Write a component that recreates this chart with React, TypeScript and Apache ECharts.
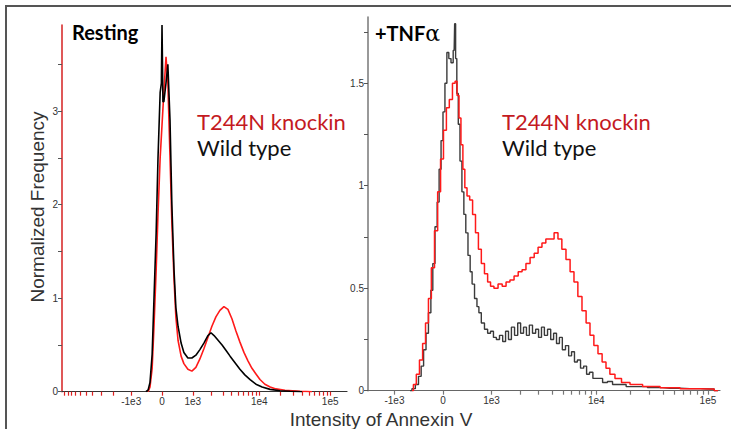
import React, { useEffect, useRef } from "react";
import * as echarts from "echarts";

// biexponential (arcsinh) display transform width
const BIEX_W = 850;
const toU = (v: number) => Math.asinh(v / BIEX_W);

const xMajorValues = [-1000, 0, 1000, 10000, 100000];
const xMajorLabels = ["-1e3", "0", "1e3", "1e4", "1e5"];
const xMinorValues = [
  -10000, -9000, -8000, -7000, -6000, -5000, -4000, -3000, -2000,
  2000, 3000, 4000, 5000, 6000, 7000, 8000, 9000,
  20000, 30000, 40000, 50000, 60000, 70000, 80000, 90000,
];

const leftYTicks = [0, 0.5, 1, 1.5, 2, 2.5, 3, 3.5];
const leftYLabels = [0, 1, 2, 3];
const rightYTicks = [0, 0.25, 0.5, 0.75, 1, 1.25, 1.5, 1.75];
const rightYLabels = [0, 0.5, 1, 1.5];

// Resting panel (x in display channel units = asinh(I/850))
const restWtX = [-0.52, -0.45, -0.39, -0.32, -0.26, -0.19, -0.13, -0.06, -0.02, 0, 0.03, 0.06, 0.13, 0.19, 0.26, 0.32, 0.39, 0.45, 0.52, 0.62, 0.71, 0.84, 0.97, 1.1, 1.23, 1.36, 1.49, 1.59, 1.69, 1.82, 1.95, 2.08, 2.21, 2.37, 2.53, 2.69, 2.86, 3.05, 3.25, 3.51, 3.83, 4.16, 4.55];
const restWtY = [0, 0.02, 0.1, 0.4, 1.0, 1.7, 2.5, 3.2, 3.3, 3.92, 3.1, 3.1, 3.3, 3.5, 2.9, 2.0, 1.3, 0.9, 0.7, 0.52, 0.42, 0.36, 0.36, 0.39, 0.45, 0.52, 0.6, 0.63, 0.6, 0.55, 0.5, 0.44, 0.38, 0.31, 0.24, 0.18, 0.13, 0.08, 0.05, 0.025, 0.01, 0.005, 0];
const restKiX = [-0.45, -0.39, -0.32, -0.26, -0.19, -0.13, -0.06, 0, 0.06, 0.13, 0.19, 0.26, 0.32, 0.39, 0.45, 0.52, 0.62, 0.71, 0.84, 0.97, 1.1, 1.23, 1.36, 1.49, 1.62, 1.75, 1.88, 2.01, 2.14, 2.27, 2.4, 2.53, 2.66, 2.79, 2.92, 3.05, 3.18, 3.34, 3.51, 3.7, 3.99, 4.48, 4.87];
const restKiY = [0, 0.05, 0.25, 0.7, 1.3, 1.9, 2.5, 2.85, 3.2, 3.58, 3.3, 2.5, 1.8, 1.2, 0.8, 0.55, 0.38, 0.3, 0.24, 0.22, 0.26, 0.35, 0.46, 0.58, 0.7, 0.8, 0.87, 0.91, 0.88, 0.78, 0.65, 0.53, 0.42, 0.33, 0.25, 0.19, 0.13, 0.08, 0.05, 0.03, 0.015, 0.005, 0];

// +TNFα panel
const tnfWtX = [-0.68, -0.6, -0.54, -0.47, -0.43, -0.37, -0.33, -0.27, -0.23, -0.19, -0.14, -0.1, -0.06, -0.02, 0.02, 0.06, 0.1, 0.14, 0.19, 0.23, 0.25, 0.27, 0.3, 0.33, 0.37, 0.41, 0.45, 0.49, 0.54, 0.58, 0.62, 0.68, 0.72, 0.76, 0.82, 0.89, 0.95, 1.01, 1.07, 1.13, 1.2, 1.26, 1.32, 1.38, 1.44, 1.51, 1.57, 1.63, 1.69, 1.75, 1.81, 1.88, 1.94, 2.0, 2.06, 2.12, 2.19, 2.25, 2.31, 2.37, 2.43, 2.49, 2.56, 2.62, 2.68, 2.74, 2.8, 2.87, 2.93, 2.99, 3.05, 3.13, 3.24, 3.34, 3.44, 3.55, 3.69, 3.86, 4.06, 4.37, 4.68, 5.09, 5.51, 5.67];
const tnfWtY = [0, 0.01, 0.03, 0.07, 0.12, 0.2, 0.28, 0.38, 0.49, 0.62, 0.8, 0.92, 1.08, 1.22, 1.36, 1.5, 1.65, 1.62, 1.6, 1.66, 1.79, 1.62, 1.45, 1.3, 1.12, 0.97, 0.86, 0.77, 0.66, 0.58, 0.52, 0.45, 0.41, 0.38, 0.33, 0.3, 0.28, 0.29, 0.26, 0.25, 0.27, 0.24, 0.29, 0.25, 0.31, 0.27, 0.33, 0.28, 0.31, 0.27, 0.32, 0.28, 0.3, 0.26, 0.31, 0.27, 0.3, 0.25, 0.28, 0.23, 0.26, 0.2, 0.22, 0.17, 0.19, 0.14, 0.15, 0.11, 0.12, 0.08, 0.09, 0.06, 0.06, 0.04, 0.045, 0.03, 0.03, 0.02, 0.02, 0.015, 0.012, 0.01, 0.008, 0];
const tnfKiX = [-0.64, -0.58, -0.52, -0.45, -0.39, -0.33, -0.27, -0.21, -0.14, -0.08, -0.02, 0.04, 0.1, 0.16, 0.23, 0.27, 0.31, 0.35, 0.39, 0.43, 0.47, 0.52, 0.58, 0.64, 0.7, 0.76, 0.82, 0.89, 0.95, 1.01, 1.09, 1.18, 1.26, 1.34, 1.42, 1.51, 1.59, 1.67, 1.75, 1.84, 1.92, 2.0, 2.08, 2.16, 2.25, 2.33, 2.41, 2.49, 2.58, 2.66, 2.74, 2.82, 2.91, 2.99, 3.07, 3.15, 3.24, 3.32, 3.4, 3.48, 3.61, 3.75, 3.96, 4.27, 4.68, 5.09, 5.51, 5.67];
const tnfKiY = [0, 0.03, 0.08, 0.15, 0.23, 0.33, 0.45, 0.6, 0.78, 0.97, 1.13, 1.27, 1.38, 1.42, 1.5, 1.51, 1.44, 1.33, 1.2, 1.08, 0.99, 0.95, 0.93, 0.86, 0.77, 0.69, 0.62, 0.57, 0.53, 0.51, 0.5, 0.52, 0.51, 0.53, 0.54, 0.56, 0.58, 0.59, 0.62, 0.65, 0.67, 0.7, 0.72, 0.74, 0.74, 0.77, 0.74, 0.69, 0.64, 0.58, 0.53, 0.46, 0.39, 0.33, 0.27, 0.22, 0.18, 0.14, 0.11, 0.08, 0.06, 0.04, 0.03, 0.02, 0.015, 0.01, 0.008, 0];

const zip = (xs: number[], ys: number[]) => xs.map((x, i) => [x, ys[i]]);

const LABEL_FONT = "Liberation Sans, Arial, sans-serif";
const TEXT_FONT = "Lato, 'Open Sans', sans-serif";

function xAxisFor(gridIndex: number, min: number, max: number, tickColor: string, lineColor: string) {
  const inRange = (u: number) => u >= min && u <= max;
  const major = xMajorValues.map(toU).filter(inRange);
  const allTicks = [...xMajorValues, ...xMinorValues].map(toU).filter(inRange);
  return {
    type: "value" as const,
    gridIndex,
    min,
    max,
    splitLine: { show: false },
    axisLine: { show: true, onZero: false, lineStyle: { color: lineColor, width: 1.2 } },
    axisTick: { show: true, length: 4, customValues: allTicks, lineStyle: { color: tickColor, width: 1.2 } },
    axisLabel: {
      show: true,
      customValues: major,
      margin: 5,
      fontSize: 10,
      fontFamily: LABEL_FONT,
      color: "#333",
      formatter: (val: number) => {
        let best = 0;
        let bd = Infinity;
        xMajorValues.forEach((v, i) => {
          const d = Math.abs(toU(v) - val);
          if (d < bd) { bd = d; best = i; }
        });
        return xMajorLabels[best];
      },
    },
  };
}

function yAxisFor(gridIndex: number, max: number, ticks: number[], labels: number[], lineColor: string) {
  return {
    type: "value" as const,
    gridIndex,
    min: 0,
    max,
    splitLine: { show: false },
    axisLine: { show: true, onZero: false, lineStyle: { color: lineColor, width: 1.5 } },
    axisTick: { show: true, length: 4, customValues: ticks, lineStyle: { color: "#555", width: 1 } },
    axisLabel: {
      show: true,
      customValues: labels,
      margin: 4,
      fontSize: 10,
      fontFamily: LABEL_FONT,
      color: "#333",
      formatter: (v: number) => String(v),
    },
  };
}

export default function App() {
  const ref = useRef<HTMLDivElement>(null);
  useEffect(() => {
    if (!ref.current) return;
    const chart = echarts.init(ref.current, undefined, { renderer: "svg" });
    const option: any = {
      animation: false,
      backgroundColor: "#ffffff",
      grid: [
        { left: 62, top: 25, width: 285, height: 366.7 },
        { left: 368, top: 17, width: 352, height: 373.7 },
      ],
      xAxis: [
        xAxisFor(0, -3.247, 6.006, "#e02020", "#333"),
        xAxisFor(1, -1.546, 5.71, "#777", "#666"),
      ],
      yAxis: [
        yAxisFor(0, 3.92, leftYTicks, leftYLabels, "#d42020"),
        yAxisFor(1, 1.823, rightYTicks, rightYLabels, "#777"),
      ],
      series: [
        {
          type: "line", xAxisIndex: 0, yAxisIndex: 0, data: zip(restKiX, restKiY),
          showSymbol: false, lineStyle: { color: "#ff1a1a", width: 1.6 }, z: 2,
        },
        {
          type: "line", xAxisIndex: 0, yAxisIndex: 0, data: zip(restWtX, restWtY),
          showSymbol: false, lineStyle: { color: "#000000", width: 1.6 }, z: 3,
        },
        {
          type: "line", xAxisIndex: 1, yAxisIndex: 1, data: zip(tnfWtX, tnfWtY), step: "middle",
          showSymbol: false, lineStyle: { color: "#3a3a3a", width: 1.4 }, z: 2,
        },
        {
          type: "line", xAxisIndex: 1, yAxisIndex: 1, data: zip(tnfKiX, tnfKiY), step: "middle",
          showSymbol: false, lineStyle: { color: "#ff1a1a", width: 1.5 }, z: 3,
        },
      ],
      graphic: [
        {
          type: "rect", shape: { x: 6, y: 6, width: 800, height: 800 },
          style: { fill: "none", stroke: "#555", lineWidth: 2 }, silent: true,
        },
        {
          type: "text", left: 72, top: 22,
          style: { text: "Resting", font: `bold 20px ${TEXT_FONT}`, fill: "#000" },
        },
        {
          type: "text", left: 375, top: 22,
          style: {
            text: "{a|+TNF}{b|α}",
            rich: {
              a: { font: `bold 20px ${TEXT_FONT}`, fill: "#000" },
              b: { font: `22px 'DejaVu Serif', serif`, fill: "#000" },
            },
          },
        },
        {
          type: "text", left: 197, top: 110,
          style: { text: "T244N knockin", font: `22px ${TEXT_FONT}`, fill: "#c41a1f" },
        },
        {
          type: "text", left: 197, top: 136,
          style: { text: "Wild type", font: `22px ${TEXT_FONT}`, fill: "#111" },
        },
        {
          type: "text", left: 502, top: 110,
          style: { text: "T244N knockin", font: `22px ${TEXT_FONT}`, fill: "#c41a1f" },
        },
        {
          type: "text", left: 502, top: 136,
          style: { text: "Wild type", font: `22px ${TEXT_FONT}`, fill: "#111" },
        },
        {
          type: "text", x: 37, y: 207, rotation: Math.PI / 2,
          style: {
            text: "Normalized Frequency", font: `19px ${LABEL_FONT}`, fill: "#333",
            align: "center", verticalAlign: "middle",
          },
        },
        {
          type: "text", x: 381, y: 419,
          style: {
            text: "Intensity of Annexin V", font: `19px ${LABEL_FONT}`, fill: "#333",
            align: "center", verticalAlign: "middle",
          },
        },
      ],
    };
    chart.setOption(option);
    return () => chart.dispose();
  }, []);
  return (
    <div
      ref={ref}
      style={{ position: "fixed", left: 0, top: 0, width: 731, height: 429 }}
    />
  );
}
